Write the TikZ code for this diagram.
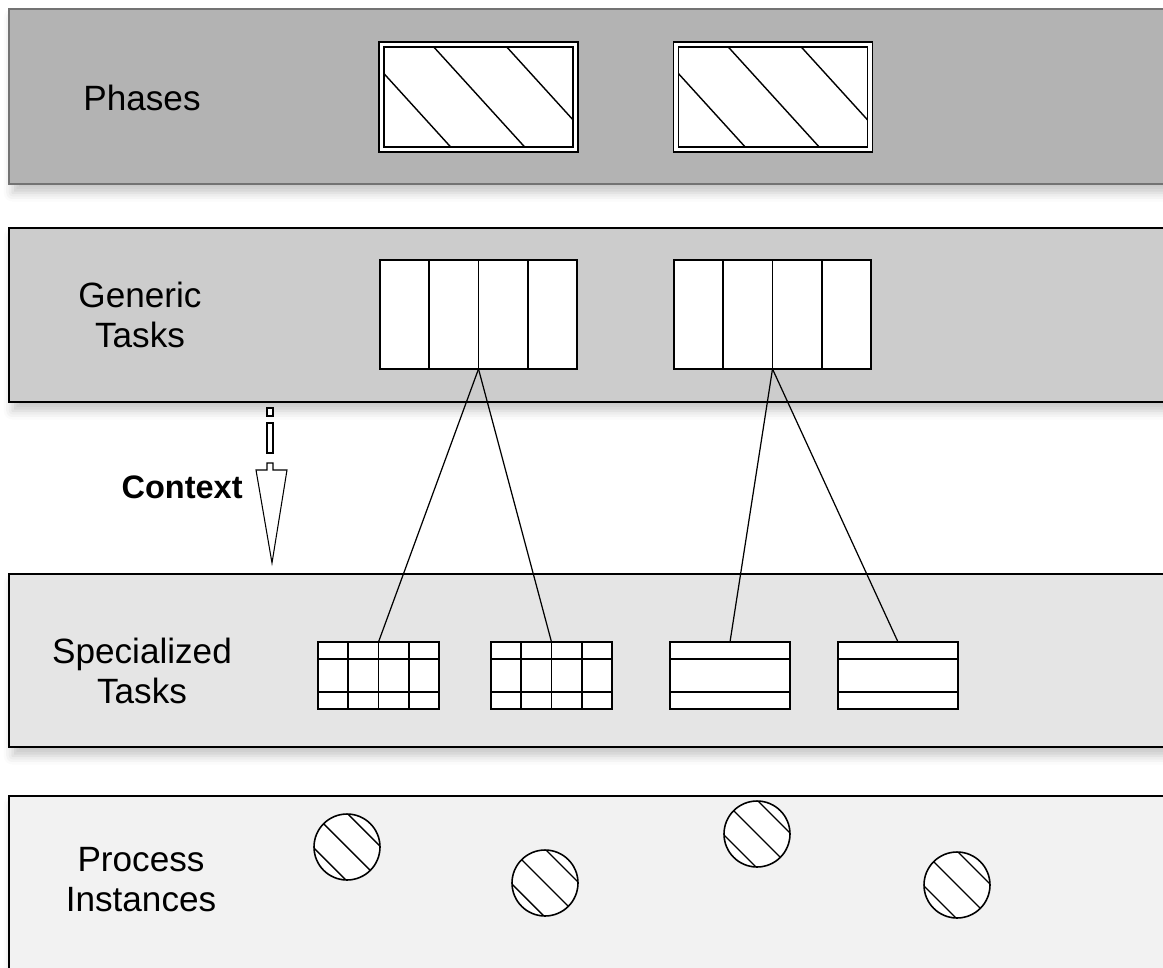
\documentclass[tikz,border=0pt]{standalone}
\usepackage{fontspec}
\setmainfont{Liberation Sans}
\usetikzlibrary{calc,shadows.blur}

\definecolor{phaseband}{HTML}{B3B3B3}
\definecolor{genband}{HTML}{CCCCCC}
\definecolor{specband}{HTML}{E5E5E5}
\definecolor{instband}{HTML}{F2F2F2}

\begin{document}
\begin{tikzpicture}[x=0.02cm, y=-0.02cm,
            band/.style={draw=black, line width=1.1pt, blur shadow={shadow xshift=2pt, shadow yshift=-5pt, shadow blur radius=5pt, shadow opacity=22}},
            lbl/.style={font=\fontsize{20}{22.7}\selectfont, align=center},
            phasebox/.style={rectangle, draw, fill=white, double, double distance=1.9pt, line width=0.8pt, minimum width=3.88cm, minimum height=2.1cm, inner sep=0pt, outer sep=0pt,
                path picture={\foreach \d in {-24,50,123} \draw[line width=0.8pt] ([shift={(\d,0)}]path picture bounding box.north west) ++(-40,-44) -- ++(200,220);}},
            genbox/.style={rectangle, draw, fill=white, line width=0.9pt, minimum width=3.94cm, minimum height=2.18cm, inner sep=0pt, outer sep=0pt,
                path picture={\foreach \i in {1,2,3} \draw[line width=1pt] ($(path picture bounding box.north west)!\i/4!(path picture bounding box.north east)$) -- ($(path picture bounding box.south west)!\i/4!(path picture bounding box.south east)$);}},
            rowbox/.style={rectangle, draw, fill=white, line width=0.9pt, minimum width=2.4cm, minimum height=1.34cm, inner sep=0pt, outer sep=0pt,
                path picture={\foreach \i in {1,3} \draw[line width=1pt] ($(path picture bounding box.north west)!\i/4!(path picture bounding box.south west)$) -- ($(path picture bounding box.north east)!\i/4!(path picture bounding box.south east)$);}},
            gridbox/.style={rowbox, minimum width=2.42cm,
                path picture={\foreach \i in {1,3} \draw[line width=1pt] ($(path picture bounding box.north west)!\i/4!(path picture bounding box.south west)$) -- ($(path picture bounding box.north east)!\i/4!(path picture bounding box.south east)$);
                    \foreach \i in {1,2,3} \draw[line width=1pt] ($(path picture bounding box.north west)!\i/4!(path picture bounding box.north east)$) -- ($(path picture bounding box.south west)!\i/4!(path picture bounding box.south east)$);}},
            inst/.style={circle, draw, fill=white, line width=0.9pt, minimum size=1.32cm, inner sep=0pt, outer sep=0pt,
                path picture={\foreach \o in {-17,0,17} \draw[line width=0.8pt] ([shift={(\o,-\o)}]path picture bounding box.center) ++(-40,-40) -- ++(80,80);}},
            link/.style={draw, line width=0.7pt}
        ]
            \useasboundingbox (0,0) rectangle (1163,967);
            \clip (0,0) rectangle (1163,967);

            % bands
            \path[band, fill=phaseband, draw=black!55] (9,9) rectangle (1190,184);
            \path[band, fill=genband] (9,228) rectangle (1190,402);
            \path[band, fill=specband] (9,574) rectangle (1190,747);
            \path[band, fill=instband] (9,796) rectangle (1190,1010);

            % labels
            \node(phaseslbl) at (142,98) [lbl] {Phases};
            \node(genlbl) at (140,315) [lbl] {Generic\\Tasks};
            \node(speclbl) at (142,671) [lbl] {Specialized\\Tasks};
            \node(instlbl) at (141,880) [lbl] {Process\\Instances};

            % phases
            \node(phaseone) at (478.5,97) [phasebox] {};
            \node(phasetwo) at (773,97) [phasebox] {};

            % generic tasks
            \node(genone) at (478.5,314.5) [genbox] {};
            \node(gentwo) at (772.5,314.5) [genbox] {};

            % specialized tasks
            \node(specone) at (378.5,675.5) [gridbox] {};
            \node(spectwo) at (551.5,675.5) [gridbox] {};
            \node(specthree) at (730,675.5) [rowbox] {};
            \node(specfour) at (898,675.5) [rowbox] {};

            \path[link] (genone.south) -- (specone.north);
            \path[link] (genone.south) -- (spectwo.north);
            \path[link] (gentwo.south) -- (specthree.north);
            \path[link] (gentwo.south) -- (specfour.north);

            % context arrow
            \begin{scope}[line width=0.6pt, blur shadow={shadow xshift=2pt, shadow yshift=-2pt, shadow blur radius=2pt, shadow opacity=22}]
                \draw[fill=white] (267,408) rectangle (273,416);
                \draw[fill=white] (267,423) rectangle (273,453);
                \draw[fill=white] (267,463) -- (273,463) -- (273,470) -- (287,470) -- (272,563) -- (256,470) -- (267,470) -- cycle;
            \end{scope}
            \node(context) at (243,487) [anchor=east, font=\bfseries\fontsize{18.5}{21}\selectfont, inner sep=0pt] {Context};

            % process instances
            \node(instone) at (347,847) [inst] {};
            \node(insttwo) at (545,883) [inst] {};
            \node(instthree) at (757,834) [inst] {};
            \node(instfour) at (957,885) [inst] {};
        \end{tikzpicture}
\end{document}
